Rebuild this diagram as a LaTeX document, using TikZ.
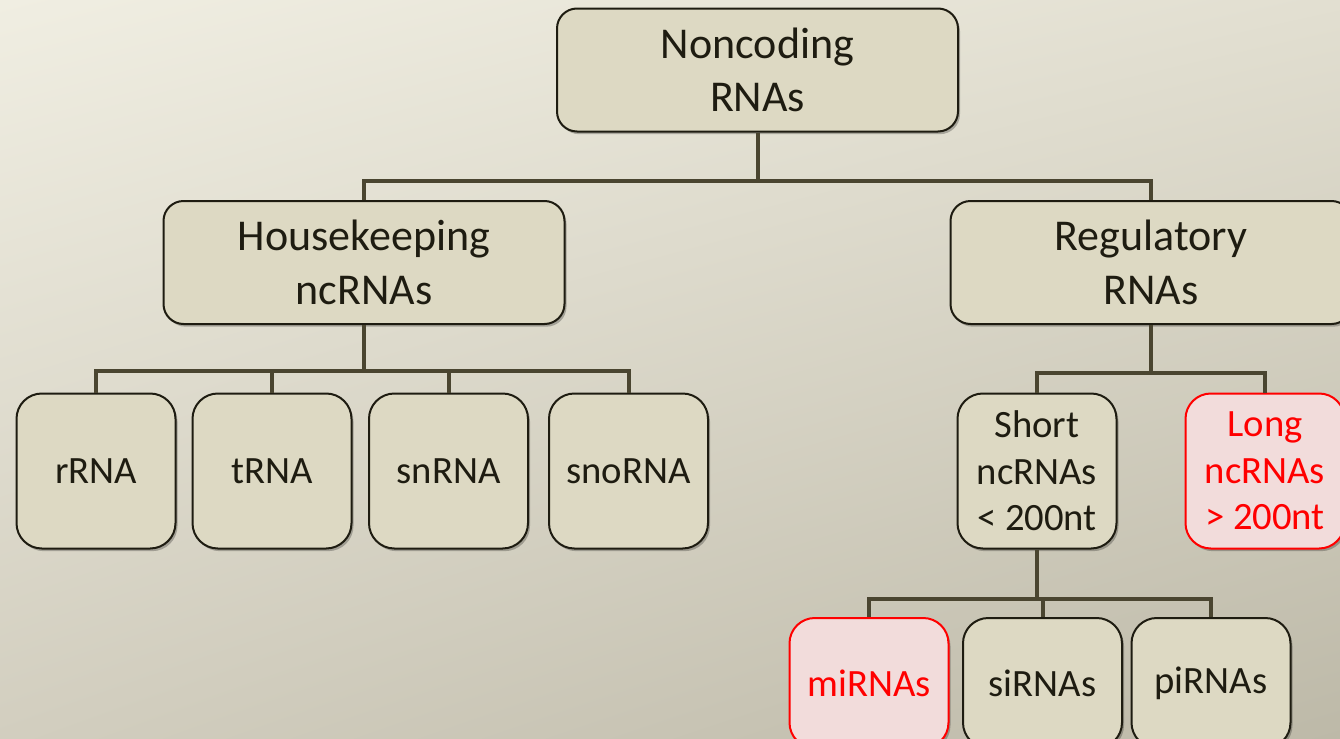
\documentclass[tikz,border=0pt]{standalone}
\usepackage{fontspec}
\setmainfont{Carlito}
\usetikzlibrary{shadows,shadings}
\definecolor{boxfill}{HTML}{DDD9C3}
\definecolor{boxline}{HTML}{1E1C11}
\definecolor{connline}{HTML}{4A4530}
\definecolor{redfill}{HTML}{F2DCDB}
\definecolor{redtext}{HTML}{FF0000}
\definecolor{bgTL}{HTML}{F0EEE2}
\definecolor{bgTR}{HTML}{E2DFD1}
\definecolor{bgBL}{HTML}{D2CEBF}
\definecolor{bgBR}{HTML}{BDB9A8}
\tikzset{
  basebox/.style={draw=boxline, line width=1.5pt, fill=boxfill, text=boxline,
    align=center, inner sep=0pt,
    drop shadow={shadow xshift=1.5pt, shadow yshift=-2pt, opacity=0.25, fill=black}},
  bigbox/.style={basebox, minimum width=300.75pt, minimum height=92.25pt,
    rounded corners=15pt, font=\fontsize{33}{40}\selectfont},
  smallbox/.style={basebox, minimum width=119.25pt, minimum height=116.25pt,
    rounded corners=19pt, font=\fontsize{29}{35}\selectfont},
  lowbox/.style={smallbox, minimum height=97.5pt},
  redbox/.style={draw=redtext, fill=redfill, text=redtext},
  conn/.style={draw=connline, line width=3pt}
}
\begin{document}
\begin{tikzpicture}[x=0.75pt,y=-0.75pt]
\shade[upper left=bgTL, upper right=bgTR, lower left=bgBL, lower right=bgBR]
  (0,0) rectangle (1340,739);
\useasboundingbox (0,0) rectangle (1340,739);
\clip (0,0) rectangle (1340,739);

\node[bigbox] (nc) at (757.5,70) {Noncoding\\RNAs};
\node[bigbox] (hk) at (364,262.5) {Housekeeping\\ncRNAs};
\node[bigbox] (reg) at (1151,262.5) {Regulatory\\RNAs};

\node[smallbox] (rrna) at (96,471) {rRNA};
\node[smallbox] (trna) at (272,471) {tRNA};
\node[smallbox] (snrna) at (448.5,471) {snRNA};
\node[smallbox] (snorna) at (628.5,471) {snoRNA};

\node[smallbox] (short) at (1037,471) {Short\\ncRNAs\\< 200nt};
\node[smallbox,redbox] (long) at (1265,471) {Long\\ncRNAs\\> 200nt};

\node[lowbox,redbox] (mi) at (869,683) {miRNAs};
\node[lowbox] (si) at (1042.5,683) {siRNAs};
\node[lowbox] (pi) at (1211,683) {piRNAs};

\draw[conn] (nc.south) -- ++(0,48) -| (hk.north);
\draw[conn] (nc.south) -- ++(0,48) -| (reg.north);

\draw[conn] (hk.south) -- ++(0,46) -| (rrna.north);
\draw[conn] (hk.south) -- ++(0,46) -| (trna.north);
\draw[conn] (hk.south) -- ++(0,46) -| (snrna.north);
\draw[conn] (hk.south) -- ++(0,46) -| (snorna.north);

\draw[conn] (reg.south) -- ++(0,48) -| (short.north);
\draw[conn] (reg.south) -- ++(0,48) -| (long.north);

\draw[conn] (short.south) -- ++(0,49) -| (mi.north);
\draw[conn] (short.south) -- ++(0,49) -| (si.north);
\draw[conn] (short.south) -- ++(0,49) -| (pi.north);
\end{tikzpicture}
\end{document}
